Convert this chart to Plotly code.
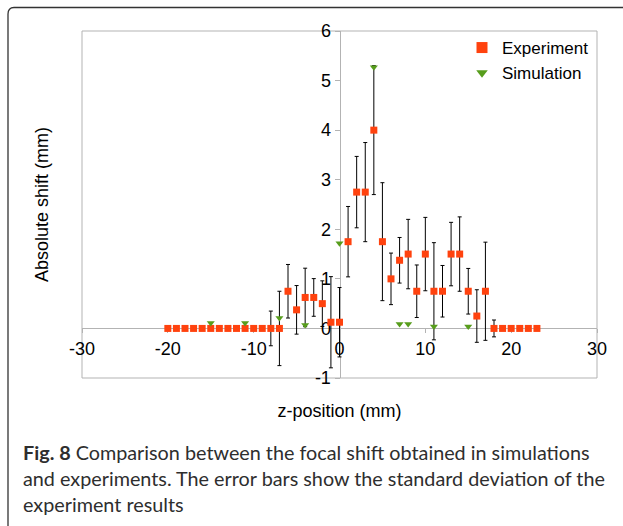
import plotly.graph_objects as go

# ---------------- data ----------------
exp_z = list(range(-20, 24))
exp_y = [0]*12 + [0, 0, 0.75, 0.375, 0.625, 0.625, 0.5, 0.125, 0.125,
                  1.75, 2.75, 2.75, 4.0, 1.75, 1.0, 1.375, 1.5, 0.75, 1.5,
                  0.75, 0.75, 1.5, 1.5, 0.75, 0.25, 0.75, 0, 0, 0, 0, 0, 0]
exp_err = [0]*12 + [0.35, 0.75, 0.54, 0.49, 0.59, 0.38, 0.46, 0.92, 0.70,
                    0.71, 0.72, 1.0, 1.3, 1.19, 0.52, 0.46, 0.70, 0.53, 0.74,
                    0.98, 0.52, 0.64, 0.75, 0.46, 0.53, 0.99, 0.17, 0, 0, 0, 0, 0]

sim_z = [-15, -11, -7, -4, 0, 4, 7, 8, 11, 15]
sim_y = [0.11, 0.11, 0.21, 0.07, 1.72, 5.27, 0.09, 0.09, 0.04, 0.04]

x_ticks = [-30, -20, -10, 0, 10, 20, 30]
y_ticks = [-1, 0, 1, 2, 3, 4, 5, 6]

EXP_COLOR = "#ff420e"
SIM_COLOR = "#579d1c"
AX_COLOR = "#b3b3b3"
FONT = "Liberation Sans, Arial, sans-serif"

W, H = 623, 526
L, R, T, B = 82, 597, 31, 378


def px(x):
    return (x - L) / (R - L)


def py(y):
    return (B - y) / (B - T)


fig = go.Figure()

fig.add_trace(go.Scatter(
    x=exp_z, y=exp_y, mode="markers", name="Experiment", showlegend=False,
    marker=dict(symbol="square", size=7, color=EXP_COLOR),
    error_y=dict(type="data", array=exp_err, visible=True,
                 color="black", thickness=1, width=2),
))
fig.add_trace(go.Scatter(
    x=sim_z, y=sim_y, mode="markers", name="Simulation", showlegend=False,
    marker=dict(symbol="triangle-down", size=7, color=SIM_COLOR),
))
# legend entries
fig.add_trace(go.Scatter(
    x=[None], y=[None], mode="markers", name="Experiment",
    marker=dict(symbol="square", size=11, color=EXP_COLOR),
))
fig.add_trace(go.Scatter(
    x=[None], y=[None], mode="markers", name="Simulation",
    marker=dict(symbol="triangle-down", size=10, color=SIM_COLOR),
))

fig.update_layout(
    width=W, height=H,
    margin=dict(l=L, r=W - R, t=T, b=H - B, autoexpand=False),
    paper_bgcolor="white", plot_bgcolor="white",
    font=dict(family=FONT, size=18, color="black"),
    showlegend=True,
    legend=dict(x=px(462), y=py(30), xanchor="left", yanchor="top",
                bgcolor="rgba(0,0,0,0)", font=dict(size=17, family=FONT),
                tracegroupgap=0, itemsizing="trace"),
    xaxis=dict(range=[-30, 30], tickvals=x_ticks, ticktext=[str(v) for v in x_ticks],
               showgrid=False, zeroline=False, showline=True, linecolor=AX_COLOR,
               linewidth=1, ticks="outside", ticklen=4, tickcolor=AX_COLOR,
               anchor="free", position=1/7, layer="below traces",
               tickfont=dict(size=18, family=FONT),
               title=dict(text="z-position (mm)", font=dict(size=18, family=FONT),
                          standoff=46)),
    yaxis=dict(range=[-1, 6], tickvals=y_ticks, ticktext=[str(v) for v in y_ticks],
               showgrid=False, zeroline=False, showline=True, linecolor=AX_COLOR,
               linewidth=1, ticks="outside", ticklen=5, tickcolor=AX_COLOR,
               anchor="free", position=0.5, layer="below traces",
               tickfont=dict(size=18, family=FONT),
               title=dict(text="Absolute shift (mm)", font=dict(size=18, family=FONT),
                          standoff=260)),
    shapes=[
        dict(type="rect", xref="paper", yref="paper", x0=0, x1=1, y0=0, y1=1,
             line=dict(color=AX_COLOR, width=1), layer="below"),
        dict(type="path", xref="paper", yref="paper",
             path=(f"M {px(8)},{py(530)} L {px(8)},{py(14)} "
                   f"Q {px(8)},{py(7.5)} {px(14)},{py(7.5)} L {px(630)},{py(7.5)}"),
             line=dict(color="#333333", width=1.3)),
    ],
)

CAP_FONT = "Lato, Noto Sans, sans-serif"
caption = [
    "<b>Fig. 8</b> Comparison between the focal shift obtained in simulations",
    "and experiments. The error bars show the standard deviation of the",
    "experiment results",
]
for i, line in enumerate(caption):
    fig.add_annotation(text=line, xref="paper", yref="paper",
                       x=px(21), y=py(452 + 26 * i), xanchor="left", yanchor="middle",
                       showarrow=False, align="left",
                       font=dict(family=CAP_FONT, size=19.8, color="#2e2e2e"))

fig.write_html("out.html")
